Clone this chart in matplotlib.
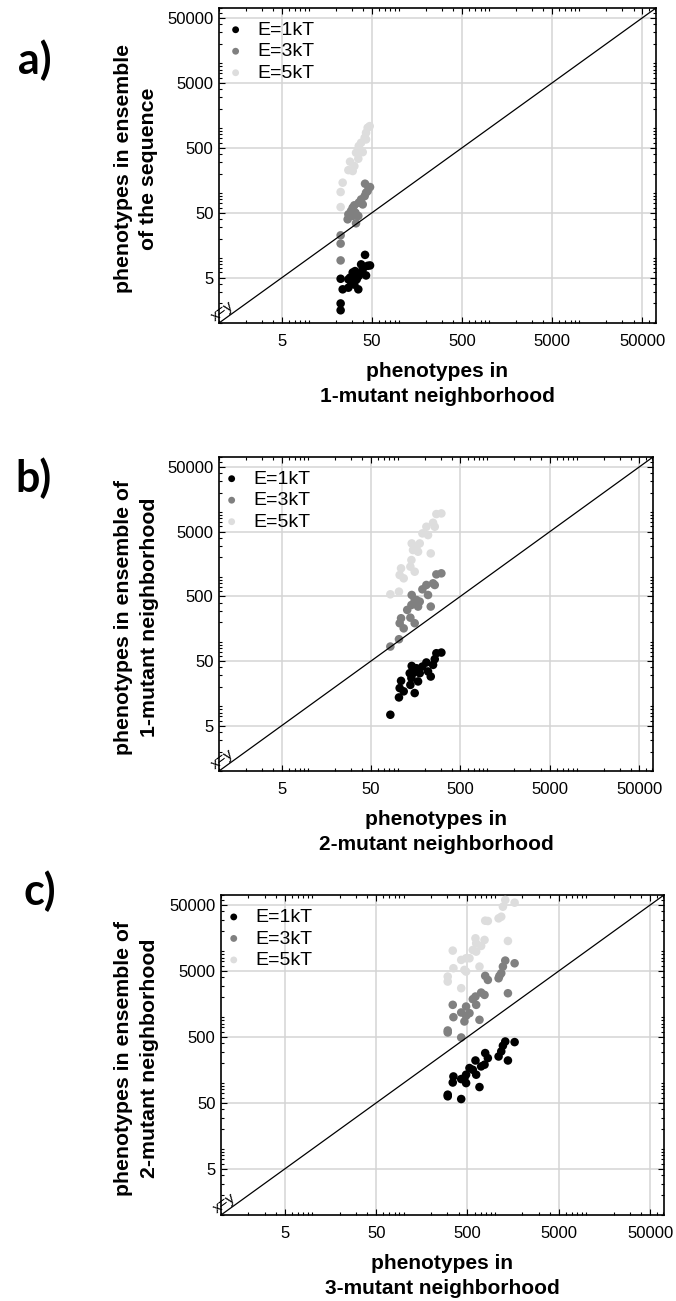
import numpy as np
import matplotlib
matplotlib.use("Agg")
import matplotlib.pyplot as plt
from matplotlib.ticker import FixedLocator, FixedFormatter, LogLocator, NullFormatter

plt.rcParams['font.family'] = ['Liberation Sans', 'DejaVu Sans']

# ---- data: panel a (1-mutant neighborhood vs ensemble of the sequence) ----
a_e1_x = [22.4, 22.4, 22.4, 23.6, 27.3, 27.3, 29.2, 30.5, 31.8, 32.4, 33.2, 35.2,
          35.6, 37.8, 39.4, 41.8, 42.9, 44.7, 47.5, 30.5, 28.5, 33.8, 38.6]
a_e1_y = [2.0, 1.57, 4.8, 3.3, 3.5, 4.7, 4.3, 5.0, 3.9, 6.3, 5.4, 3.3,
          5.3, 8.0, 6.7, 11.2, 5.4, 7.6, 7.7, 6.0, 5.0, 4.7, 6.0]
a_e3_x = [22.4, 22.4, 22.4, 26.8, 27.3, 29.2, 30.5, 31.8, 33.2, 35.2, 35.6, 37.8,
          39.4, 41.4, 42.9, 41.8, 44.7, 47.5, 30.5, 32.7]
a_e3_y = [22.4, 16.7, 9.2, 39.5, 47.1, 53, 59.7, 64.9, 34.3, 44.5, 71.3, 80,
          67, 90, 101.6, 139.7, 107.7, 124, 44.5, 50]
a_e5_x = [22.4, 22.4, 23.6, 27.3, 28.5, 30.5, 31.8, 35.2, 35.6, 37.8, 39.4, 41.4,
          42.9, 44.7, 47.1, 42.9, 33.2]
a_e5_y = [61, 104, 145, 226, 305, 219, 261, 339, 531, 597, 428, 713,
          851, 1016, 1076, 671, 419]

# ---- data: panel b (2-mutant neighborhood vs ensemble of 1-mutant neighborhood) ----
b_e1_x = [82.3, 102.7, 104.6, 108.4, 116, 137.8, 141.5, 142.6, 147.5, 154, 160.8, 167.9,
          175.3, 187.8, 208, 217, 232.8, 247, 258, 269, 306, 135.5, 147.5]
b_e1_y = [7.4, 13.7, 19.1, 24.7, 17, 21.4, 27.2, 42, 32.4, 16, 38.7, 24.2,
          32.4, 41.1, 47.5, 34.5, 28.8, 43.6, 53.4, 66, 67.6, 32.4, 38.7]
b_e3_x = [82.3, 102.7, 104.6, 108.4, 116, 137.8, 141.5, 142.6, 154, 160.8, 167.9, 175.3,
          187.8, 208, 217, 232.8, 247, 258, 269, 306, 154, 127]
b_e3_y = [83.7, 108.6, 192, 229, 160, 234, 367, 524, 192, 439, 347, 414,
          641, 748, 524, 347, 793, 748, 1091, 1132, 439, 308]
b_e5_x = [82.3, 102.7, 104.6, 108.4, 116, 137.8, 141.5, 142.6, 154, 160.8, 167.9, 175.3,
          187.8, 208, 217, 232.8, 247, 258, 269, 306, 147.5]
b_e5_y = [537, 590, 1067, 1352, 948, 1436, 1817, 3281, 1200, 2918, 2443, 3281,
          4688, 5940, 4416, 2300, 6844, 5940, 9318, 9538, 2592]

# ---- data: panel c (3-mutant neighborhood vs ensemble of 2-mutant neighborhood) ----
c_e1_x = [304, 304, 427, 351, 345, 427, 463, 483, 483, 526, 572, 623,
          612, 677, 706, 769, 782, 836, 1096, 1172, 1222, 1297, 1387, 1642]
c_e1_y = [63, 66.7, 57.3, 126, 102, 115, 119, 100, 134, 169, 159, 134,
          220, 87, 179, 190, 285, 239, 253, 302, 368, 427, 220, 418]
c_e3_x = [304, 304, 427, 351, 345, 427, 463, 483, 483, 526, 572, 623,
          612, 677, 706, 769, 782, 836, 1096, 1172, 1222, 1297, 1387, 1642, 1120]
c_e3_y = [627, 585, 491, 998, 1535, 1175, 859, 1446, 1045, 1148, 1871, 1535,
          2051, 910, 2355, 2173, 4219, 3664, 3880, 4624, 5834, 7193, 2301, 6547, 4219]
c_e5_x = [304, 304, 427, 351, 345, 427, 463, 483, 483, 526, 572, 623,
          612, 677, 706, 769, 782, 836, 1096, 1172, 1222, 1297, 1387, 1642, 623]
c_e5_y = [4120, 3460, 2742, 5508, 10186, 7362, 5199, 7802, 4900, 7802, 10420, 9840,
          15660, 5834, 12000, 14790, 28970, 28640, 31400, 33270, 47200, 59600, 14260, 54300, 13150]

series_labels = ['E=1kT', 'E=3kT', 'E=5kT']
series_colors = ['#000000', '#808080', '#dddddd']
tick_values = [5, 50, 500, 5000, 50000]
tick_labels = ['5', '50', '500', '5000', '50000']
axis_limits = (1, 71000)

panels = [
    dict(tag='a)', data=[(a_e1_x, a_e1_y), (a_e3_x, a_e3_y), (a_e5_x, a_e5_y)],
         xlabel='phenotypes in\n1-mutant neighborhood',
         ylabel='phenotypes in ensemble\nof the sequence',
         rect=(219, 8, 656, 323), tagpos=(35, 60), legx=0.018),
    dict(tag='b)', data=[(b_e1_x, b_e1_y), (b_e3_x, b_e3_y), (b_e5_x, b_e5_y)],
         xlabel='phenotypes in\n2-mutant neighborhood',
         ylabel='phenotypes in ensemble of\n1-mutant neighborhood',
         rect=(219, 457, 653, 771), tagpos=(34, 478), legx=0.009),
    dict(tag='c)', data=[(c_e1_x, c_e1_y), (c_e3_x, c_e3_y), (c_e5_x, c_e5_y)],
         xlabel='phenotypes in\n3-mutant neighborhood',
         ylabel='phenotypes in ensemble of\n2-mutant neighborhood',
         rect=(221, 895, 664, 1215), tagpos=(40, 891), legx=0.009),
]

W, H = 676, 1301
fig = plt.figure(figsize=(W / 100, H / 100), dpi=100)

for p in panels:
    x0, y0, x1, y1 = p['rect']
    ax = fig.add_axes([x0 / W, 1 - y1 / H, (x1 - x0) / W, (y1 - y0) / H])
    ax.set_xscale('log')
    ax.set_yscale('log')
    ax.set_xlim(*axis_limits)
    ax.set_ylim(*axis_limits)

    for (xs, ys), lab, col in zip(p['data'], series_labels, series_colors):
        ax.scatter(xs, ys, s=38, color=col, edgecolors='none', label=lab, zorder=3)

    # identity line
    ax.plot(axis_limits, axis_limits, color='black', lw=0.9, zorder=4)
    ax.text(1.22, 1.22, 'x=y', fontsize=11, rotation=45, transform_rotates_text=True,
            rotation_mode='anchor', ha='center', va='bottom', zorder=5, clip_on=False)

    for axis in (ax.xaxis, ax.yaxis):
        axis.set_major_locator(FixedLocator(tick_values))
        axis.set_major_formatter(FixedFormatter(tick_labels))
        axis.set_minor_locator(LogLocator(base=10, subs=np.arange(1, 10), numticks=50))
        axis.set_minor_formatter(NullFormatter())

    ax.tick_params(which='both', direction='in', top=True, right=True,
                   labelsize=12, width=0.8, color='black')
    ax.tick_params(which='major', length=4.5)
    ax.tick_params(which='minor', length=2.5)
    ax.tick_params(axis='x', pad=8)
    ax.tick_params(axis='y', pad=4)
    ax.grid(True, which='major', color='#d4d4d4', lw=1.1)
    ax.set_axisbelow(True)
    for sp in ax.spines.values():
        sp.set_linewidth(1.2)

    ax.set_xlabel(p['xlabel'], fontsize=15, fontweight='bold', labelpad=9, linespacing=1.45)
    ax.set_ylabel(p['ylabel'], fontsize=15.3, fontweight='bold', linespacing=1.45,
                  ha='center', va='center')
    ax.yaxis.set_label_coords(-0.19, 0.49)

    ax.legend(loc='upper left', bbox_to_anchor=(p['legx'], 0.958), frameon=False,
              fontsize=14, handlelength=0.9, handletextpad=0.65,
              labelspacing=0.2, borderpad=0, borderaxespad=0, markerscale=0.8)

    fig.text(p['tagpos'][0] / W, 1 - p['tagpos'][1] / H, p['tag'], fontsize=31,
             fontweight='bold', family=['Lato', 'DejaVu Sans'], ha='center', va='center')

fig.savefig('out.png', dpi=100)
